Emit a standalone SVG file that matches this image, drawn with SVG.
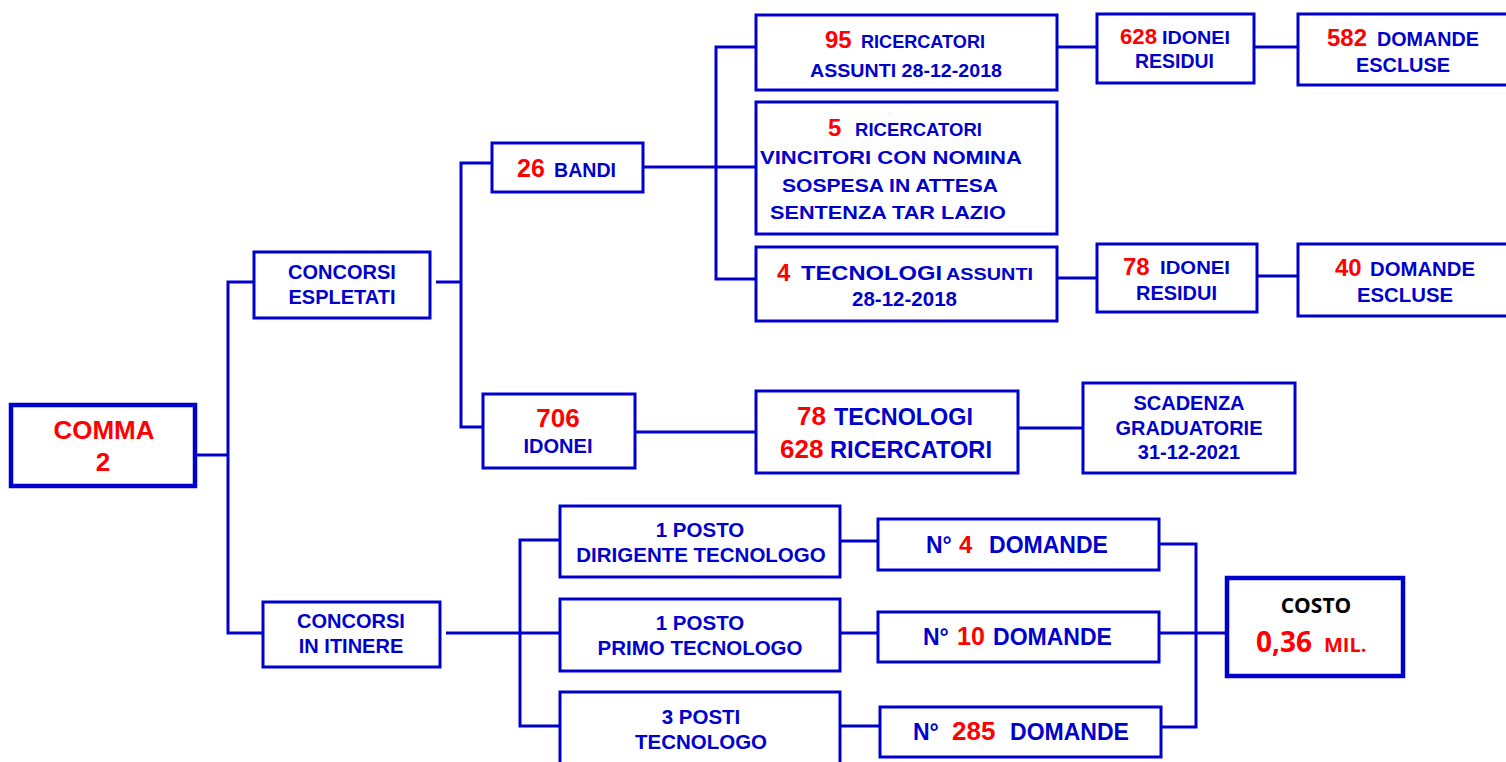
<svg xmlns="http://www.w3.org/2000/svg" width="1506" height="762" viewBox="0 0 1506 762">
<style>
.box{fill:#fff;stroke:#0000CC;stroke-width:3}
.bold{stroke-width:4.5}
.ln{fill:none;stroke:#0000CC;stroke-width:3}
text{font-family:"Liberation Sans",Arial,sans-serif;font-weight:bold;fill:#0000CC}
.m{text-anchor:middle}
.r{fill:#FF0000}
</style>
<rect width="1506" height="762" fill="#fff"/>
<g id="connectors">
<polyline class="ln" points="197,455 228,455"/>
<polyline class="ln" points="254,282 228,282 228,633 263,633"/>
<polyline class="ln" points="436,282 461,282"/>
<polyline class="ln" points="492,163 461,163 461,427 483,427"/>
<polyline class="ln" points="643,167 716,167"/>
<polyline class="ln" points="756,47 716,47 716,279 756,279"/>
<polyline class="ln" points="716,167 756,167"/>
<polyline class="ln" points="1057,47 1097,47"/>
<polyline class="ln" points="1254,47 1298,47"/>
<polyline class="ln" points="1057,278 1097,278"/>
<polyline class="ln" points="1257,276 1298,276"/>
<polyline class="ln" points="635,432 756,432"/>
<polyline class="ln" points="1018,428 1083,428"/>
<polyline class="ln" points="446,633 520,633"/>
<polyline class="ln" points="560,540 520,540 520,726 560,726"/>
<polyline class="ln" points="520,633 560,633"/>
<polyline class="ln" points="840,541 878,541"/>
<polyline class="ln" points="840,633 878,633"/>
<polyline class="ln" points="840,726 880,726"/>
<polyline class="ln" points="1159,544 1196,544 1196,727 1161,727"/>
<polyline class="ln" points="1159,633 1227,633"/>
</g>
<g id="comma2">
<rect class="box bold" x="11" y="405" width="184" height="81"/>
<text class="m r" x="104" y="439" font-size="26">COMMA</text>
<text class="m r" x="103" y="471" font-size="26">2</text>
</g>
<g id="concorsi-espletati">
<rect class="box" x="254" y="252" width="176" height="66"/>
<text class="m" x="342" y="279" font-size="20">CONCORSI</text>
<text class="m" x="342" y="304" font-size="20">ESPLETATI</text>
</g>
<g id="bandi">
<rect class="box" x="492" y="143" width="151" height="49"/>
<text class="r" x="517" y="177" font-size="25">26</text>
<text x="554" y="177" font-size="20" textLength="62" lengthAdjust="spacingAndGlyphs">BANDI</text>
</g>
<g id="ricercatori95">
<rect class="box" x="756" y="15" width="301" height="75"/>
<text class="r" x="825" y="48" font-size="24">95</text>
<text x="861" y="48" font-size="18" textLength="124" lengthAdjust="spacingAndGlyphs">RICERCATORI</text>
<text x="810" y="77" font-size="18" textLength="192" lengthAdjust="spacingAndGlyphs">ASSUNTI 28-12-2018</text>
</g>
<g id="idonei628">
<rect class="box" x="1097" y="14" width="157" height="69"/>
<text class="r" x="1120" y="44" font-size="22" textLength="37" lengthAdjust="spacingAndGlyphs">628</text>
<text x="1162" y="44" font-size="19" textLength="68" lengthAdjust="spacingAndGlyphs">IDONEI</text>
<text x="1135" y="68" font-size="19.5" textLength="79" lengthAdjust="spacingAndGlyphs">RESIDUI</text>
</g>
<g id="escluse582">
<rect class="box" x="1298" y="14" width="215" height="71"/>
<text class="r" x="1327" y="46" font-size="23" textLength="40" lengthAdjust="spacingAndGlyphs">582</text>
<text x="1377" y="46" font-size="20" textLength="102" lengthAdjust="spacingAndGlyphs">DOMANDE</text>
<text x="1356" y="72" font-size="20" textLength="94" lengthAdjust="spacingAndGlyphs">ESCLUSE</text>
</g>
<g id="ricercatori5">
<rect class="box" x="756" y="102" width="301" height="132"/>
<text class="r" x="828" y="136" font-size="24">5</text>
<text x="855" y="136" font-size="18" textLength="127" lengthAdjust="spacingAndGlyphs">RICERCATORI</text>
<text x="760" y="164" font-size="19" textLength="262" lengthAdjust="spacingAndGlyphs">VINCITORI CON NOMINA</text>
<text x="782" y="192" font-size="19" textLength="216" lengthAdjust="spacingAndGlyphs">SOSPESA IN ATTESA</text>
<text x="770" y="219" font-size="19" textLength="236" lengthAdjust="spacingAndGlyphs">SENTENZA TAR LAZIO</text>
</g>
<g id="tecnologi4">
<rect class="box" x="756" y="247" width="301" height="74"/>
<text class="r" x="777" y="281" font-size="24">4</text>
<text x="801" y="280" font-size="21" textLength="141" lengthAdjust="spacingAndGlyphs">TECNOLOGI</text>
<text x="946" y="280" font-size="17" textLength="87" lengthAdjust="spacingAndGlyphs">ASSUNTI</text>
<text x="852" y="306" font-size="20.5" textLength="105" lengthAdjust="spacingAndGlyphs">28-12-2018</text>
</g>
<g id="idonei78">
<rect class="box" x="1097" y="244" width="160" height="68"/>
<text class="r" x="1123" y="275" font-size="24">78</text>
<text x="1160" y="274" font-size="19" textLength="70" lengthAdjust="spacingAndGlyphs">IDONEI</text>
<text x="1136" y="300" font-size="19.5" textLength="81" lengthAdjust="spacingAndGlyphs">RESIDUI</text>
</g>
<g id="escluse40">
<rect class="box" x="1298" y="244" width="215" height="72"/>
<text class="r" x="1335" y="276" font-size="24">40</text>
<text x="1370" y="276" font-size="20" textLength="105" lengthAdjust="spacingAndGlyphs">DOMANDE</text>
<text x="1357" y="302" font-size="20" textLength="96" lengthAdjust="spacingAndGlyphs">ESCLUSE</text>
</g>
<g id="idonei706">
<rect class="box" x="483" y="394" width="152" height="74"/>
<text class="m r" x="558" y="427" font-size="26">706</text>
<text class="m" x="558" y="453" font-size="20">IDONEI</text>
</g>
<g id="tecnologi-ricercatori">
<rect class="box" x="756" y="391" width="262" height="82"/>
<text class="r" x="797" y="425" font-size="26">78</text>
<text x="834" y="425" font-size="23" textLength="139" lengthAdjust="spacingAndGlyphs">TECNOLOGI</text>
<text class="r" x="780" y="458" font-size="26">628</text>
<text x="830" y="458" font-size="23" textLength="162" lengthAdjust="spacingAndGlyphs">RICERCATORI</text>
</g>
<g id="scadenza">
<rect class="box" x="1083" y="383" width="212" height="90"/>
<text class="m" x="1189" y="410" font-size="20">SCADENZA</text>
<text class="m" x="1189" y="435" font-size="20">GRADUATORIE</text>
<text class="m" x="1189" y="459" font-size="20">31-12-2021</text>
</g>
<g id="concorsi-itinere">
<rect class="box" x="263" y="602" width="177" height="65"/>
<text class="m" x="351" y="628" font-size="20">CONCORSI</text>
<text class="m" x="351" y="653" font-size="20">IN ITINERE</text>
</g>
<g id="posto-dirigente">
<rect class="box" x="560" y="506" width="280" height="71"/>
<text class="m" x="700" y="537" font-size="20.5">1 POSTO</text>
<text class="m" x="701" y="562" font-size="20.5">DIRIGENTE TECNOLOGO</text>
</g>
<g id="domande4">
<rect class="box" x="878" y="519" width="281" height="51"/>
<text x="926" y="553" font-size="23">N°</text>
<text class="r" x="959" y="553" font-size="24">4</text>
<text x="989" y="553" font-size="23" textLength="119" lengthAdjust="spacingAndGlyphs">DOMANDE</text>
</g>
<g id="posto-primo">
<rect class="box" x="560" y="599" width="280" height="72"/>
<text class="m" x="700" y="630" font-size="20.5">1 POSTO</text>
<text class="m" x="700" y="655" font-size="20.5">PRIMO TECNOLOGO</text>
</g>
<g id="domande10">
<rect class="box" x="878" y="612" width="281" height="50"/>
<text x="923" y="645" font-size="23">N°</text>
<text class="r" x="957" y="645" font-size="25">10</text>
<text x="993" y="645" font-size="23" textLength="119" lengthAdjust="spacingAndGlyphs">DOMANDE</text>
</g>
<g id="posti-tecnologo">
<rect class="box" x="560" y="692" width="280" height="75"/>
<text class="m" x="701" y="724" font-size="20.5">3 POSTI</text>
<text class="m" x="701" y="749" font-size="20.5">TECNOLOGO</text>
</g>
<g id="domande285">
<rect class="box" x="880" y="707" width="281" height="50"/>
<text x="913" y="740" font-size="23">N°</text>
<text class="r" x="952" y="740" font-size="26">285</text>
<text x="1010" y="740" font-size="23" textLength="119" lengthAdjust="spacingAndGlyphs">DOMANDE</text>
</g>
<g id="costo">
<rect class="box bold" x="1227" y="578" width="176" height="98"/>
<text class="m" x="1316" y="613" font-size="21" style="font-family:'Open Sans','Liberation Sans',sans-serif;fill:#000">COSTO</text>
<text class="r" x="1256" y="652" font-size="28" style="font-family:'Open Sans','Liberation Sans',sans-serif">0,36</text>
<text class="r" x="1324" y="652" font-size="20" style="font-family:'Open Sans','Liberation Sans',sans-serif">MIL.</text>
</g>
</svg>
